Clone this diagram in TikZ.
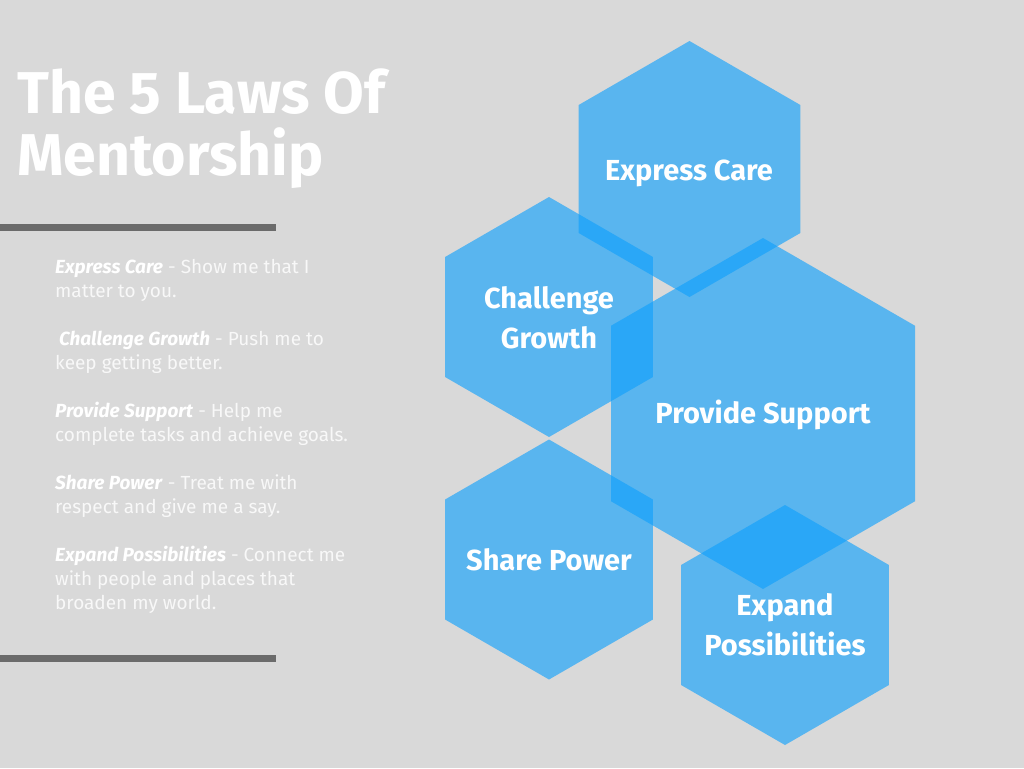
\documentclass[tikz,border=0pt]{standalone}
\usepackage{fontspec}
\setmainfont{Fira Sans}
\usetikzlibrary{backgrounds}
\definecolor{slidegrey}{RGB}{217,217,217}
\definecolor{bargrey}{RGB}{107,107,107}
\definecolor{hexblue}{RGB}{15,160,252}
\definecolor{notewhite}{RGB}{248,248,248}
% one law hexagon, pointy top: centre x, centre y, radius
\newcommand{\hexlaw}[3]{
  \fill[hexfill] (#1,#2) +(90:#3) -- +(30:#3) -- +(-30:#3)
    -- +(-90:#3) -- +(-150:#3) -- +(150:#3) -- cycle;
}
\newcommand{\lawname}[1]{\textcolor{white}{\textbf{\textit{#1}}}}
\tikzset{
  hexfill/.style={fill=hexblue,fill opacity=0.63},
  hexlabel/.style={text=white,font=\fontsize{29}{40}\selectfont\bfseries,
    align=center,anchor=base,inner sep=0pt},
  lawnote/.style={text=notewhite,font=\fontsize{19}{24}\selectfont,
    align=left,anchor=base west,inner sep=0pt},
  headline/.style={text=white,font=\fontsize{59}{62}\selectfont\bfseries,
    align=left,anchor=base west,inner sep=0pt}
}

\begin{document}
\begin{tikzpicture}[x=1pt,y=-1pt]
    % slide
    \fill[slidegrey] (0,0) rectangle (1024,768);
    % title and bars (nodes sit on their last baseline)
    \node[headline] (title) at (17,175) {The 5 Laws Of\\Mentorship};
    \fill[bargrey] (0,224) rectangle (276,231);
    \fill[bargrey] (0,655) rectangle (276,662);
    % law notes
    \node[lawnote] (carenote) at (55,297)
      {\lawname{Express Care} - Show me that I\\matter to you.};
    \node[lawnote] (growthnote) at (55,369)
      {\hspace{0.2em}\lawname{Challenge Growth} - Push me to\\keep getting better.};
    \node[lawnote] (supportnote) at (55,441)
      {\lawname{Provide Support} - Help me\\complete tasks and achieve goals.};
    \node[lawnote] (powernote) at (55,513)
      {\lawname{Share Power} - Treat me with\\respect and give me a say.};
    \node[lawnote] (expandnote) at (55,609)
      {\lawname{Expand Possibilities} - Connect me\\with people and places that\\broaden my world.};
    % hexagons
    \hexlaw{689.5}{169}{128}
    \hexlaw{549}{317}{120}
    \hexlaw{763}{413.5}{175.5}
    \hexlaw{549}{559.5}{120}
    \hexlaw{785}{625}{120}
    % hexagon labels
    \node[hexlabel] (care) at (689,180) {Express Care};
    \node[hexlabel] (growth) at (549,348) {Challenge\\Growth};
    \node[hexlabel] (support) at (763,423) {Provide Support};
    \node[hexlabel] (power) at (549,570) {Share Power};
    \node[hexlabel] (expand) at (785,655) {Expand\\Possibilities};
\end{tikzpicture}
\end{document}
